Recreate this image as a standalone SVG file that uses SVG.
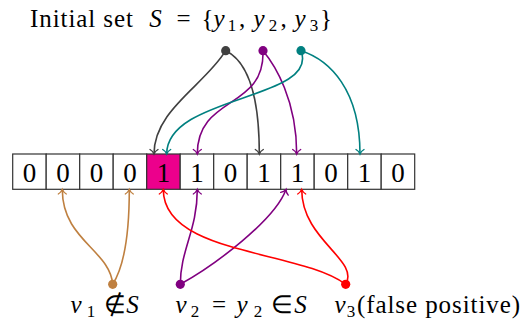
<svg xmlns="http://www.w3.org/2000/svg" width="523" height="323" viewBox="0 0 523 323">
<style>
.t{font-size:25px;fill:#000}
.m{text-anchor:middle}
.i{font-style:italic}
.sub{font-size:17px}
.cell{fill:#fff;stroke:#333;stroke-width:1.2}
.pink{fill:#EC008C}
.d{font-size:27px;text-anchor:middle;fill:#000}
.e{fill:none;stroke-width:1.6}
.gray{stroke:#404040}.purple{stroke:#800080}.teal{stroke:#008080}.brown{stroke:#BF8040}.red{stroke:#FF0000}
</style>
<defs>
<marker id="aGray" markerUnits="userSpaceOnUse" orient="auto" markerWidth="12" markerHeight="12" refX="0" refY="0" viewBox="-8 -6 10 12" overflow="visible"><path d="M-4.5,-4 C-3,-1.5 -0.8,-0.3 0,0 C-0.8,0.3 -3,1.5 -4.5,4" fill="none" stroke="#404040" stroke-width="1.4" stroke-linecap="round"/></marker>
<marker id="aPurple" markerUnits="userSpaceOnUse" orient="auto" markerWidth="12" markerHeight="12" refX="0" refY="0" viewBox="-8 -6 10 12" overflow="visible"><path d="M-4.5,-4 C-3,-1.5 -0.8,-0.3 0,0 C-0.8,0.3 -3,1.5 -4.5,4" fill="none" stroke="#800080" stroke-width="1.4" stroke-linecap="round"/></marker>
<marker id="aTeal" markerUnits="userSpaceOnUse" orient="auto" markerWidth="12" markerHeight="12" refX="0" refY="0" viewBox="-8 -6 10 12" overflow="visible"><path d="M-4.5,-4 C-3,-1.5 -0.8,-0.3 0,0 C-0.8,0.3 -3,1.5 -4.5,4" fill="none" stroke="#008080" stroke-width="1.4" stroke-linecap="round"/></marker>
<marker id="aBrown" markerUnits="userSpaceOnUse" orient="auto" markerWidth="12" markerHeight="12" refX="0" refY="0" viewBox="-8 -6 10 12" overflow="visible"><path d="M-4.5,-4 C-3,-1.5 -0.8,-0.3 0,0 C-0.8,0.3 -3,1.5 -4.5,4" fill="none" stroke="#BF8040" stroke-width="1.4" stroke-linecap="round"/></marker>
<marker id="aRed" markerUnits="userSpaceOnUse" orient="auto" markerWidth="12" markerHeight="12" refX="0" refY="0" viewBox="-8 -6 10 12" overflow="visible"><path d="M-4.5,-4 C-3,-1.5 -0.8,-0.3 0,0 C-0.8,0.3 -3,1.5 -4.5,4" fill="none" stroke="#FF0000" stroke-width="1.4" stroke-linecap="round"/></marker>
</defs>

<g id="title">
<text class="t" style="font-family:'Liberation Serif',serif !important" x="30" y="27" textLength="103" lengthAdjust="spacing">Initial set</text>
<text class="t m" style="font-family:'Liberation Serif',serif !important" y="27"><tspan class="i" x="155.5">S</tspan><tspan x="183.5">=</tspan><tspan x="207.5">{</tspan><tspan class="i" x="219">y</tspan><tspan class="sub" x="232" dy="4">1</tspan><tspan x="242" dy="-4">,</tspan><tspan class="i" x="259">y</tspan><tspan class="sub" x="273" dy="4">2</tspan><tspan x="283.5" dy="-4">,</tspan><tspan class="i" x="300">y</tspan><tspan class="sub" x="314" dy="4">3</tspan><tspan x="326" dy="-4">}</tspan></text>
</g>

<g id="array">
<rect class="cell" x="12.7" y="154" width="33.5" height="35.3"/>
<rect class="cell" x="46.2" y="154" width="33.5" height="35.3"/>
<rect class="cell" x="79.7" y="154" width="33.5" height="35.3"/>
<rect class="cell" x="113.2" y="154" width="33.5" height="35.3"/>
<rect class="cell pink" x="146.7" y="154" width="33.5" height="35.3"/>
<rect class="cell" x="180.2" y="154" width="33.5" height="35.3"/>
<rect class="cell" x="213.7" y="154" width="33.5" height="35.3"/>
<rect class="cell" x="247.2" y="154" width="33.5" height="35.3"/>
<rect class="cell" x="280.7" y="154" width="33.5" height="35.3"/>
<rect class="cell" x="314.2" y="154" width="33.5" height="35.3"/>
<rect class="cell" x="347.7" y="154" width="33.5" height="35.3"/>
<rect class="cell" x="381.2" y="154" width="33.5" height="35.3"/>
<text class="d" style="font-family:'Liberation Serif',serif !important" x="29.5" y="181.5">0</text>
<text class="d" style="font-family:'Liberation Serif',serif !important" x="63" y="181.5">0</text>
<text class="d" style="font-family:'Liberation Serif',serif !important" x="96.5" y="181.5">0</text>
<text class="d" style="font-family:'Liberation Serif',serif !important" x="130" y="181.5">0</text>
<text class="d" style="font-family:'Liberation Serif',serif !important" x="163.5" y="181.5">1</text>
<text class="d" style="font-family:'Liberation Serif',serif !important" x="197" y="181.5">1</text>
<text class="d" style="font-family:'Liberation Serif',serif !important" x="230.5" y="181.5">0</text>
<text class="d" style="font-family:'Liberation Serif',serif !important" x="264" y="181.5">1</text>
<text class="d" style="font-family:'Liberation Serif',serif !important" x="297.5" y="181.5">1</text>
<text class="d" style="font-family:'Liberation Serif',serif !important" x="331" y="181.5">0</text>
<text class="d" style="font-family:'Liberation Serif',serif !important" x="364.5" y="181.5">1</text>
<text class="d" style="font-family:'Liberation Serif',serif !important" x="398" y="181.5">0</text>
</g>

<g id="connectors">
<path class="e gray" marker-end="url(#aGray)" d="M225.7,50.7 C205,85 154,110 154,154"/>
<path class="e gray" marker-end="url(#aGray)" d="M225.7,50.7 C245,60 259.3,90 259.3,154"/>
<path class="e purple" marker-end="url(#aPurple)" d="M263,50.7 C265,110 197.3,95 197.3,154"/>
<path class="e purple" marker-end="url(#aPurple)" d="M263,50.7 C275,65 296.7,100 296.7,154"/>
<path class="e teal" marker-end="url(#aTeal)" d="M301,50.7 C320,100 166.7,95 166.7,154"/>
<path class="e teal" marker-end="url(#aTeal)" d="M301,50.7 C330,60 360,90 360,154"/>
<path class="e brown" marker-end="url(#aBrown)" d="M112.7,284.3 C110,250 62.3,240 62.3,189.5"/>
<path class="e brown" marker-end="url(#aBrown)" d="M112.7,284.3 C125,265 129.3,230 129.3,189.5"/>
<path class="e purple" marker-end="url(#aPurple)" d="M180.3,284.3 C180.3,250 197.3,230 197.3,189.5"/>
<path class="e purple" marker-end="url(#aPurple)" d="M180.3,284.3 C215,265 275,220 286,189.5"/>
<path class="e red" marker-end="url(#aRed)" d="M345.7,284.3 C300,250 163.3,255 163.3,189.5"/>
<path class="e red" marker-end="url(#aRed)" d="M345.7,284.3 C360,260 301.7,240 301.7,189.5"/>
</g>

<g id="y1"><circle cx="225.7" cy="50.7" r="4.6" fill="#404040"/></g>
<g id="y2"><circle cx="263" cy="50.7" r="4.6" fill="#800080"/></g>
<g id="y3"><circle cx="301" cy="50.7" r="4.6" fill="#008080"/></g>

<g id="v1">
<circle cx="112.7" cy="284.3" r="4.6" fill="#BF8040"/>
<text class="t m" style="font-family:'Liberation Serif',serif !important" y="313"><tspan class="i" x="76">v</tspan><tspan class="sub" x="91" dy="4">1</tspan><tspan x="114.5" dy="-4">∉</tspan><tspan class="i" x="132.5">S</tspan></text>
</g>
<g id="v2">
<circle cx="180.3" cy="284.3" r="4.6" fill="#800080"/>
<text class="t m" style="font-family:'Liberation Serif',serif !important" y="313"><tspan class="i" x="181">v</tspan><tspan class="sub" x="195" dy="4">2</tspan><tspan x="219" dy="-4">=</tspan><tspan class="i" x="242">y</tspan><tspan class="sub" x="258" dy="4">2</tspan><tspan x="281.5" dy="-4">∈</tspan><tspan class="i" x="300.5">S</tspan></text>
</g>
<g id="v3">
<circle cx="345.7" cy="284.3" r="4.6" fill="#FF0000"/>
<text class="t m" style="font-family:'Liberation Serif',serif !important" y="313"><tspan class="i" x="340">v</tspan><tspan class="sub" x="351" dy="4">3</tspan></text>
<text class="t" style="font-family:'Liberation Serif',serif !important" x="357" y="313" textLength="163" lengthAdjust="spacing">(false positive)</text>
</g>
</svg>
